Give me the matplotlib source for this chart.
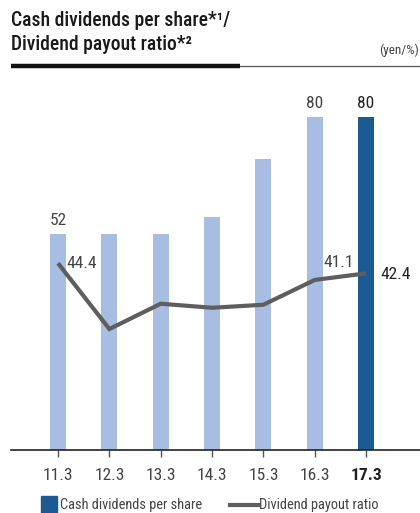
"""Cash dividends per share and dividend payout ratio, FY11.3-17.3."""

import matplotlib

matplotlib.use("Agg")
import matplotlib.pyplot as plt
from matplotlib.lines import Line2D
from matplotlib.patches import Rectangle
import numpy as np

plt.rcParams["font.family"] = ["Roboto Condensed", "DejaVu Sans"]

YEARS = ["11.3", "12.3", "13.3", "14.3", "15.3", "16.3", "17.3"]
DIVIDENDS = [52, 52, 52, 56, 70, 80, 80]            # yen per share
PAYOUT = [44.4, 31.4, 36.4, 35.6, 36.2, 41.1, 42.4]  # percent

LIGHT = "#a7bde1"
DARK = "#1c5a93"
LINE = "#5e5e5e"
TEXT = "#444444"

W, H = 420, 513


def fx(px):
    return px / W


def fy(py):
    return 1 - py / H


def main():
    fig = plt.figure(figsize=(W / 100, H / 100), dpi=100)
    ax = fig.add_axes([fx(11), fy(450), fx(420) - fx(11), fy(80) - fy(450)])
    x = np.arange(len(YEARS))

    colors = [LIGHT] * (len(YEARS) - 1) + [DARK]
    ax.bar(x, DIVIDENDS, width=0.31, color=colors, zorder=1)
    ax.set_xlim(-0.916, 7.05)
    ax.set_ylim(0, 88.9)
    ax.set_yticks([])
    for s in ["top", "right", "left"]:
        ax.spines[s].set_visible(False)
    ax.spines["bottom"].set_color("#222222")
    ax.spines["bottom"].set_linewidth(1.2)
    ax.set_xticks(x)
    ax.set_xticklabels(YEARS, fontsize=12.5, color=TEXT)
    ax.tick_params(axis="x", direction="out", length=5, width=1, color="#555555", pad=8)
    lbl = ax.get_xticklabels()[-1]
    lbl.set_color("#222222")
    lbl.set_fontweight("semibold")

    # bar value labels
    for i in [0, 5, 6]:
        ax.annotate(str(DIVIDENDS[i]), (x[i], DIVIDENDS[i]), xytext=(0, 4),
                    textcoords="offset points", ha="center", va="bottom",
                    fontsize=12.5, color="#222222" if i == 6 else TEXT)

    # payout ratio on its own scale
    ax2 = ax.twinx()
    ax2.set_ylim(7.5, 80.6)
    ax2.axis("off")
    ax2.plot(x, PAYOUT, color=LINE, linewidth=3, solid_capstyle="butt",
             solid_joinstyle="miter", zorder=3)
    ax2.annotate(f"{PAYOUT[0]}", (x[0], PAYOUT[0]), xytext=(6, 0),
                 textcoords="offset points", ha="left", va="center",
                 fontsize=12.5, color=TEXT)
    ax2.annotate(f"{PAYOUT[5]}", (x[5], PAYOUT[5]), xytext=(6, 7),
                 textcoords="offset points", ha="left", va="bottom",
                 fontsize=12.5, color=TEXT)
    ax2.annotate(f"{PAYOUT[6]}", (x[6], PAYOUT[6]), xytext=(10, -1),
                 textcoords="offset points", ha="left", va="center",
                 fontsize=12.5, color="#222222")

    # heading
    fig.text(fx(11), fy(21), "Cash dividends per share*¹/", fontsize=14.1,
             fontweight="medium", color="#1a1a1a", va="center", ha="left")
    fig.text(fx(11), fy(45), "Dividend payout ratio*²", fontsize=14.1,
             fontweight="medium", color="#1a1a1a", va="center", ha="left")
    fig.text(fx(419), fy(50), "(yen/%)", fontsize=9.5, color=TEXT,
             va="center", ha="right")
    fig.add_artist(Line2D([fx(11), fx(240)], [fy(66), fy(66)], color="#111111",
                          linewidth=3.2, solid_capstyle="butt"))
    fig.add_artist(Line2D([fx(240), fx(420)], [fy(66), fy(66)], color="#555555",
                          linewidth=0.9))

    # legend
    fig.add_artist(Rectangle((fx(41), fy(513)), fx(16), fy(496) - fy(513),
                             color=DARK, transform=fig.transFigure))
    fig.text(fx(60), fy(505), "Cash dividends per share", fontsize=10.4,
             color=TEXT, va="center", ha="left")
    fig.add_artist(Line2D([fx(230), fx(258)], [fy(505), fy(505)], color=LINE,
                          linewidth=3))
    fig.text(fx(259), fy(505), "Dividend payout ratio", fontsize=10.4,
             color=TEXT, va="center", ha="left")

    fig.savefig("out.png", dpi=100)
    plt.close(fig)


if __name__ == "__main__":
    main()
